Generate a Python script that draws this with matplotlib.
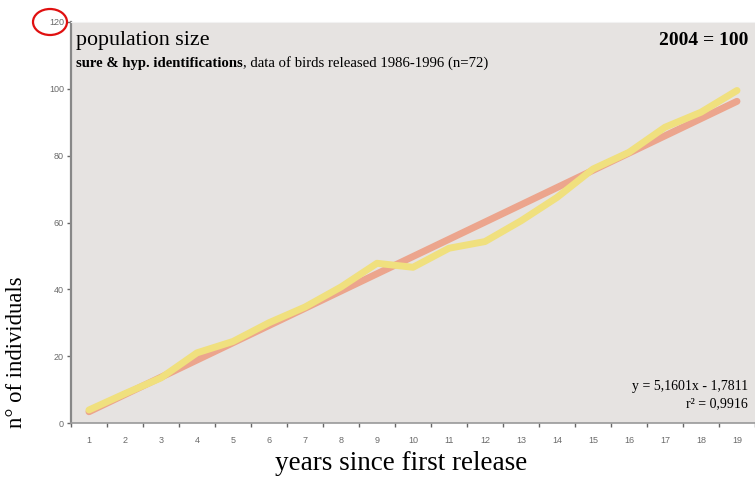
import matplotlib
matplotlib.use("Agg")
import matplotlib.pyplot as plt
from matplotlib.patches import Ellipse
import numpy as np

years = list(range(1, 20))
population = [3.9, 8.8, 13.5, 21.0, 24.4, 30.0, 34.7, 40.7, 47.8, 46.6,
              52.3, 54.3, 60.5, 67.5, 76.0, 81.0, 88.5, 93.0, 99.5]
# trendline as printed on the chart
slope = 5.1601
intercept = -1.7811
r2 = 0.9916
y_ticks = [0, 20, 40, 60, 80, 100, 120]

fig = plt.figure(figsize=(7.55, 4.78), dpi=100)
ax = fig.add_axes([0.094, 0.115, 0.906, 0.839])
ax.set_facecolor('#e6e3e1')

trend = [slope * x + intercept for x in years]
ax.plot(years, trend, color='#eca58d', lw=5, solid_capstyle='round', zorder=2)
ax.plot(years, population, color='#f0e07e', lw=5, solid_capstyle='round',
        solid_joinstyle='round', zorder=3)

ax.set_xlim(0.5, 19.5)
ax.set_ylim(0, 120)
ax.set_yticks(y_ticks)
ax.set_xticks(years)
ax.set_xticks(np.arange(0.5, 20, 1), minor=True)
ax.tick_params(axis='x', which='major', length=0, pad=9)
ax.tick_params(axis='x', which='minor', length=3, color='#666666', width=1)
ax.tick_params(axis='y', length=3, color='#666666', width=1, pad=2)
for lab in ax.get_xticklabels() + ax.get_yticklabels():
    lab.set_fontfamily('Liberation Sans')
    lab.set_fontsize(6.5)
    lab.set_color('#6a6a6a')

ax.spines['right'].set_visible(False)
ax.spines['top'].set_color('#f2f2f2')
ax.spines['left'].set_color('#888888')
ax.spines['left'].set_linewidth(1.6)
ax.spines['bottom'].set_color('#999999')
ax.spines['bottom'].set_linewidth(1.2)

serif = 'Liberation Serif'
fig.text(17 / 755, 1 - 352 / 478, 'n° of individuals', rotation=90, fontfamily=serif,
         fontsize=16.3, ha='center', va='center')
fig.text(401 / 755, 1 - 464 / 478, 'years since first release', fontfamily=serif,
         fontsize=19.5, ha='center', va='center')

ax.text(0.007, 0.978, 'population size', transform=ax.transAxes, fontfamily=serif,
        fontsize=15.8, va='top', ha='left')
t1 = ax.text(0.007, 0.888, 'sure & hyp. identifications', transform=ax.transAxes,
             fontfamily=serif, fontsize=10.6, fontweight='bold', va='baseline', ha='left')
ax.annotate(', data of birds released 1986-1996 (n=72)', xy=(1, 0), xycoords=t1,
            fontfamily=serif, fontsize=10.6, va='bottom', ha='left')
ax.text(0.99, 0.975, '2004 = 100', transform=ax.transAxes, fontfamily=serif,
        fontsize=14, fontweight='bold', va='top', ha='right')

ax.text(0.99, 0.075, 'y = %sx - %s' % (str(slope).replace('.', ','),
                                     str(-intercept).replace('.', ',')),
        transform=ax.transAxes, fontfamily=serif, fontsize=10, ha='right', va='bottom')
ax.text(0.99, 0.033, 'r² = %s' % str(r2).replace('.', ','), transform=ax.transAxes,
        fontfamily=serif, fontsize=10, ha='right', va='bottom')

# red circle highlighting the 120 label
fig.patches.append(Ellipse((50 / 755, 1 - 22 / 478), 34 / 755, 26 / 478,
                           transform=fig.transFigure, fill=False,
                           edgecolor='#e01010', lw=1.6))

fig.savefig('out.png', dpi=100)
